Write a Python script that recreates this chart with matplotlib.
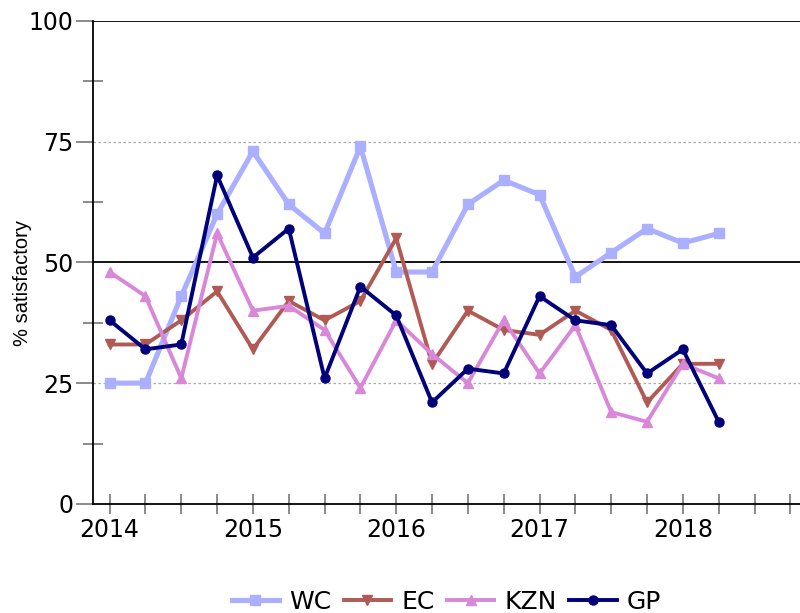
import numpy as np
import matplotlib.pyplot as plt
from matplotlib.ticker import MultipleLocator

plt.rcParams['font.family'] = ['DejaVu Sans']

# quarterly survey results, 2014 Q1 .. 2018 Q2
quarters = np.arange(18)
year_labels = ['2014', '2015', '2016', '2017', '2018']
year_pos = [0, 4, 8, 12, 16]

wc = [25, 25, 43, 60, 73, 62, 56, 74, 48, 48, 62, 67, 64, 47, 52, 57, 54, 56]
ec = [33, 33, 38, 44, 32, 42, 38, 42, 55, 29, 40, 36, 35, 40, 36, 21, 29, 29]
kzn = [48, 43, 26, 56, 40, 41, 36, 24, 38, 31, 25, 38, 27, 37, 19, 17, 29, 26]
gp = [38, 32, 33, 68, 51, 57, 26, 45, 39, 21, 28, 27, 43, 38, 37, 27, 32, 17]

fig = plt.figure(figsize=(8, 6.13), dpi=100)
ax = fig.add_axes([0.116, 0.178, 0.884, 0.788])

# reference lines
ax.axhline(25, color='#aaaaaa', lw=0.9, ls=(0, (2, 2)), zorder=1)
ax.axhline(75, color='#aaaaaa', lw=0.9, ls=(0, (2, 2)), zorder=1)
ax.axhline(50, color='black', lw=1.3, zorder=1)
ax.axhline(100, color='black', lw=1.3, zorder=1)

ax.plot(quarters, wc, color='#aab0ff', lw=3.7, marker='s', ms=6.5, label='WC', zorder=2)
ax.plot(quarters, ec, color='#b05a55', lw=2.8, marker='v', ms=7, label='EC', zorder=3)
ax.plot(quarters, kzn, color='#d987d8', lw=2.8, marker='^', ms=7, label='KZN', zorder=4)
ax.plot(quarters, gp, color='#00007a', lw=2.8, marker='o', ms=6.5, label='GP', zorder=5)

ax.set_xlim(-0.47, 19.27)
ax.set_ylim(0, 100)

ax.yaxis.set_major_locator(MultipleLocator(25))
ax.yaxis.set_minor_locator(MultipleLocator(12.5))
ax.set_xticks(quarters.tolist() + [18, 19], minor=True)
ax.set_xticks(year_pos)
ax.set_xticklabels(year_labels)

ax.tick_params(axis='y', which='major', direction='out', length=12, width=1.2,
               color='#777777', labelsize=17, pad=2)
ax.tick_params(axis='y', which='minor', direction='inout', length=15, width=1.2,
               color='#777777')
ax.tick_params(axis='x', which='both', direction='inout', length=14, width=1.2,
               color='#777777', labelsize=17, pad=3)

for s in ['top', 'right']:
    ax.spines[s].set_visible(False)
ax.spines['left'].set_linewidth(1.3)
ax.spines['bottom'].set_linewidth(1.3)

fig.text(0.028, 1 - 283 / 613, '% satisfactory', rotation=90, ha='center', va='center',
         fontsize=14.5, family='Liberation Sans')

fig.legend(loc='center', bbox_to_anchor=(0.558, 0.018), ncol=4, frameon=False,
           fontsize=18, handlelength=1.9, handletextpad=0.4, columnspacing=0.5,
           borderpad=0)

fig.savefig('out.png', dpi=100)
